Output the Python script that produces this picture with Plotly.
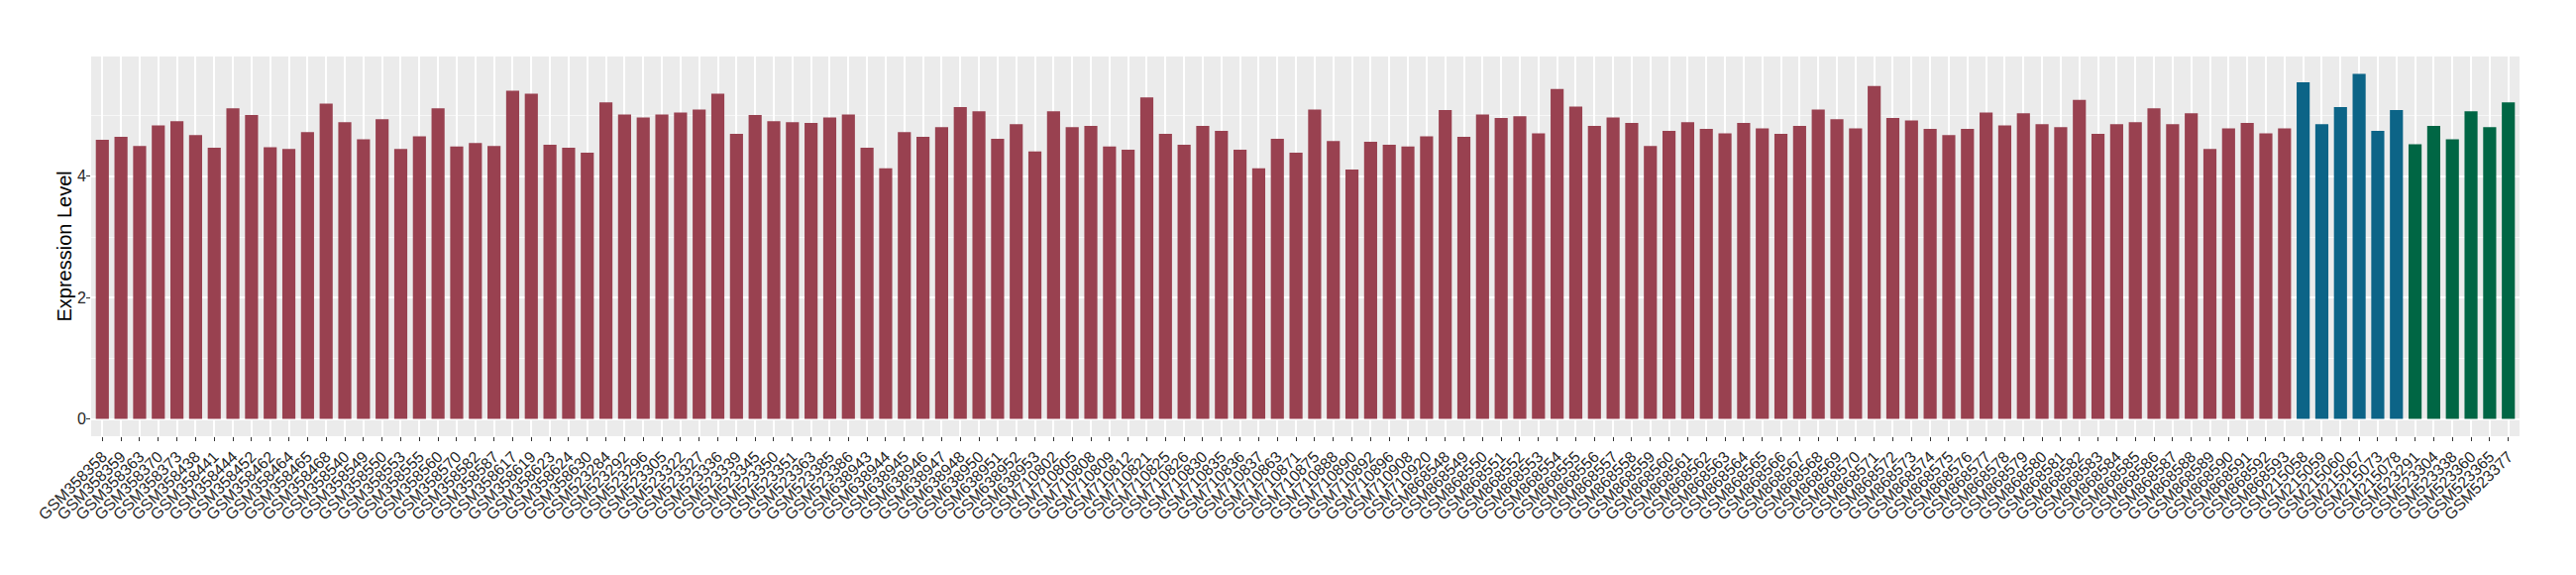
import plotly.graph_objects as go

# ---- data ----
samples_group1 = (
    ["GSM358358", "GSM358359", "GSM358363", "GSM358370", "GSM358373", "GSM358438",
     "GSM358441", "GSM358444", "GSM358452", "GSM358462", "GSM358464", "GSM358465",
     "GSM358468", "GSM358540", "GSM358549", "GSM358550", "GSM358553", "GSM358555",
     "GSM358560", "GSM358570", "GSM358582", "GSM358587", "GSM358617", "GSM358619",
     "GSM358623", "GSM358624", "GSM358630",
     "GSM523284", "GSM523292", "GSM523296", "GSM523305", "GSM523322", "GSM523327",
     "GSM523336", "GSM523339", "GSM523345", "GSM523350", "GSM523351", "GSM523363",
     "GSM523385", "GSM523386",
     "GSM638943", "GSM638944", "GSM638945", "GSM638946", "GSM638947", "GSM638948",
     "GSM638950", "GSM638951", "GSM638952", "GSM638953",
     "GSM710802", "GSM710805", "GSM710808", "GSM710809", "GSM710812", "GSM710821",
     "GSM710825", "GSM710826", "GSM710830", "GSM710835", "GSM710836", "GSM710837",
     "GSM710863", "GSM710871", "GSM710875", "GSM710888", "GSM710890", "GSM710892",
     "GSM710896", "GSM710908", "GSM710920"]
    + ["GSM8685%02d" % n for n in range(48, 94)]
)
values_group1 = [
    4.60, 4.65, 4.50, 4.84, 4.91, 4.68, 4.47, 5.12, 5.01, 4.48, 4.45, 4.73,
    5.20, 4.89, 4.61, 4.94, 4.45, 4.66, 5.12, 4.49, 4.55, 4.50, 5.41, 5.36,
    4.52, 4.47, 4.39,
    5.22, 5.02, 4.97, 5.02, 5.05, 5.10, 5.36, 4.70, 5.01, 4.91, 4.89, 4.88,
    4.97, 5.02,
    4.47, 4.13, 4.73, 4.65, 4.81, 5.14, 5.07, 4.62, 4.86, 4.41,
    5.07, 4.81, 4.83, 4.49, 4.44, 5.30, 4.70, 4.52, 4.83, 4.75, 4.44, 4.13,
    4.62, 4.39, 5.10, 4.58, 4.11, 4.57, 4.52, 4.49, 4.66,
    5.09, 4.65, 5.02, 4.96, 4.99, 4.71, 5.44, 5.15, 4.83, 4.97, 4.88, 4.50,
    4.75, 4.89, 4.78, 4.71, 4.88, 4.79, 4.70, 4.83, 5.10, 4.94, 4.79, 5.49,
    4.96, 4.92, 4.78, 4.68, 4.78, 5.05, 4.84, 5.04, 4.86, 4.81, 5.26, 4.70,
    4.86, 4.89, 5.12, 4.86, 5.04, 4.45, 4.79, 4.88, 4.71, 4.79,
]
samples_group2 = ["GSM215058", "GSM215059", "GSM215060", "GSM215067", "GSM215073", "GSM215078"]
values_group2 = [5.55, 4.86, 5.14, 5.69, 4.75, 5.09]
samples_group3 = ["GSM523291", "GSM523304", "GSM523338", "GSM523360", "GSM523365", "GSM523377"]
values_group3 = [4.53, 4.83, 4.61, 5.07, 4.81, 5.22]
y_title = "Expression Level"

colors = ["#994150", "#0C6487", "#006644"]

all_samples = samples_group1 + samples_group2 + samples_group3
all_values = values_group1 + values_group2 + values_group3

fig = go.Figure()
for xs, ys, c in [(samples_group1, values_group1, colors[0]),
                  (samples_group2, values_group2, colors[1]),
                  (samples_group3, values_group3, colors[2])]:
    fig.add_trace(go.Bar(x=xs, y=ys, marker=dict(color=c, line=dict(width=0)),
                         width=0.7, showlegend=False))

ymax = max(all_values)
pad = 0.05 * ymax
n = len(all_samples)

font_family = "Liberation Sans, Arial, sans-serif"
fig.update_layout(
    width=2600, height=580,
    # the page body adds an 8px offset; margins compensate for it
    margin=dict(l=84, r=65, t=49, b=148, autoexpand=False),
    paper_bgcolor="white",
    plot_bgcolor="#EBEBEB",
    barmode="overlay",
    font=dict(family=font_family, color="#333333"),
    xaxis=dict(
        type="category",
        categoryorder="array",
        categoryarray=all_samples,
        tickmode="array",
        tickvals=all_samples,
        ticktext=all_samples,
        range=[-0.6, n - 1 + 0.6],
        tickangle=-45,
        tickfont=dict(size=16, color="#262626"),
        ticks="outside", ticklen=4, tickwidth=1, tickcolor="#333333",
        showgrid=True, gridcolor="white", gridwidth=1.6,
        zeroline=False, showline=False,
        automargin=False,
    ),
    yaxis=dict(
        range=[-pad, ymax + pad],
        tickvals=[0, 2, 4],
        ticktext=["0", "2", "4"],
        tickfont=dict(size=16, color="#262626"),
        ticks="outside", ticklen=4, tickwidth=1, tickcolor="#333333",
        ticklabelstandoff=-3,
        showgrid=True, gridcolor="white", gridwidth=1.6,
        minor=dict(tickvals=[1, 3, 5], showgrid=True, gridcolor="#F7F7F7", gridwidth=0.8, ticks=""),
        zeroline=False, showline=False,
        automargin=False,
    ),
    annotations=[dict(
        text=y_title, xref="paper", yref="paper", x=0, y=0.5,
        xanchor="center", yanchor="middle", xshift=-28, textangle=-90,
        showarrow=False, font=dict(size=20, color="black", family=font_family),
    )],
)

fig.write_html("out.html")
